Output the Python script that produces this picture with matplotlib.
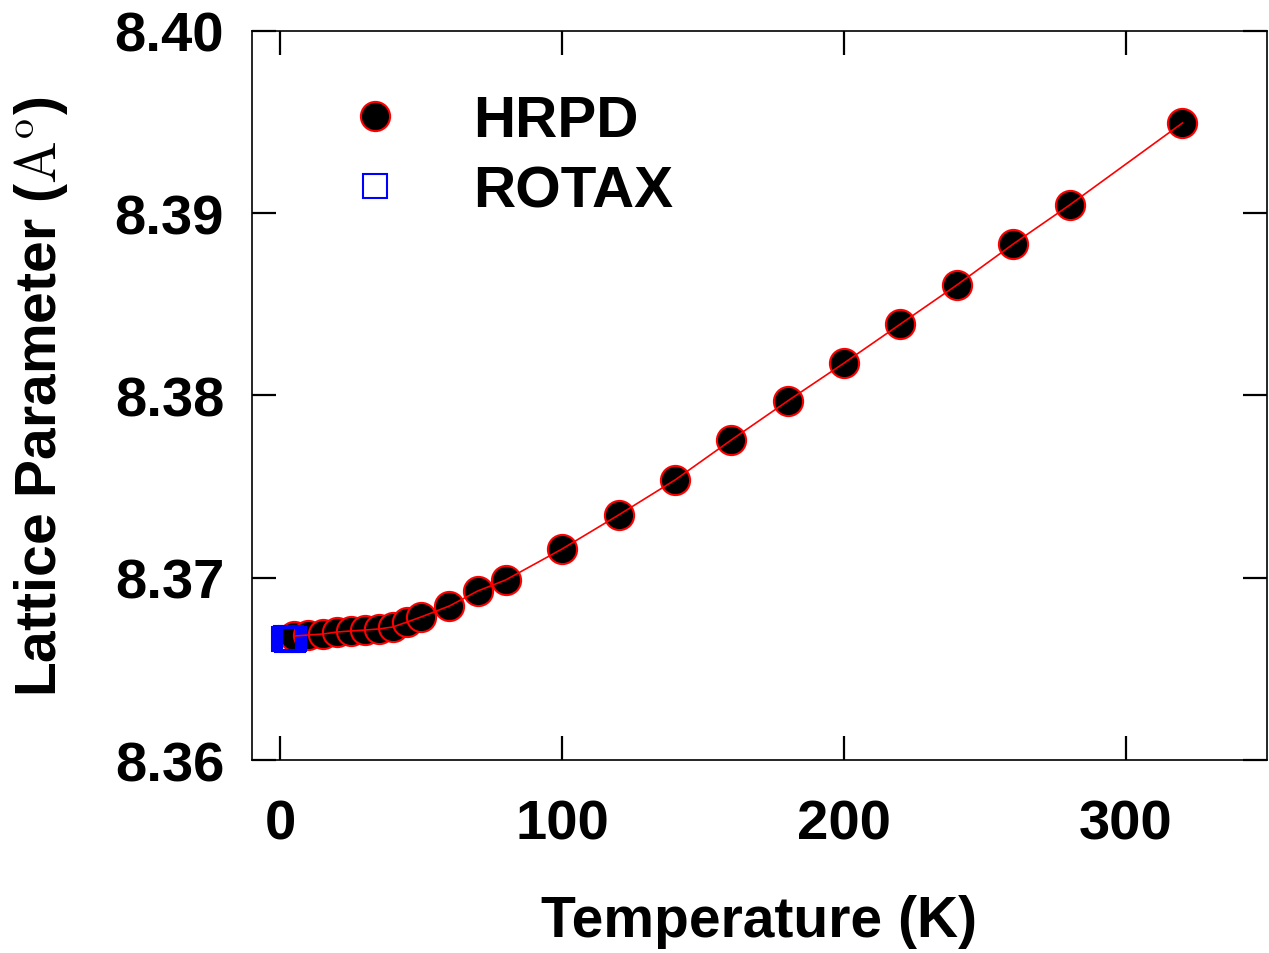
import matplotlib
matplotlib.use('Agg')
import matplotlib.pyplot as plt
from matplotlib.lines import Line2D

plt.rcParams['font.family'] = ['Liberation Sans', 'DejaVu Sans']
plt.rcParams['font.weight'] = 'bold'
plt.rcParams['mathtext.fontset'] = 'cm'

# HRPD data (temperature in K, lattice parameter in Angstrom)
hrpd_T = [5, 10, 15, 20, 25, 30, 35, 40, 45, 50, 60, 70, 80,
          100, 120, 140, 160, 180, 200, 220, 240, 260, 280, 320]
hrpd_a = [8.36680, 8.36686, 8.36691, 8.36702, 8.36708, 8.36713, 8.36719,
          8.36730, 8.36757, 8.36785, 8.36845, 8.36927, 8.36988,
          8.37158, 8.37344, 8.37536, 8.37756, 8.37970, 8.38178, 8.38392,
          8.38606, 8.38831, 8.39045, 8.39495]

# ROTAX data, clustered at low temperature
rotax_T = [1.5, 2.0, 2.5, 3.0, 3.5, 4.0, 4.5, 5.0]
rotax_a = [8.36662, 8.36667, 8.36660, 8.36665, 8.36663, 8.36668, 8.36661, 8.36664]

x_ticks = [0, 100, 200, 300]
y_ticks = [8.36, 8.37, 8.38, 8.39, 8.40]

fig = plt.figure(figsize=(12.69, 9.54), dpi=100)
ax = fig.add_axes([0.1986, 0.2023, 0.7998, 0.7642])

ax.plot(hrpd_T, hrpd_a, 'o', ms=21, mfc='black', mec='red', mew=1.5, zorder=2)
ax.plot(rotax_T, rotax_a, 's', ms=17, mfc='none', mec='blue', mew=1.5, zorder=3)
ax.plot(hrpd_T, hrpd_a, '-', color='red', lw=1.2, zorder=4)

ax.set_xlim(-10, 350)
ax.set_ylim(8.36, 8.40)
ax.set_xticks(x_ticks)
ax.set_yticks(y_ticks)
ax.set_yticklabels(['%.2f' % v for v in y_ticks])

ax.tick_params(direction='in', length=17, width=1.6, labelsize=40.5,
               top=True, right=True)
ax.tick_params(axis='x', pad=28)
ax.tick_params(axis='y', pad=20)
for s in ax.spines.values():
    s.set_linewidth(1.2)

ax.set_xlabel('Temperature (K)', fontsize=41, fontweight='bold', labelpad=31)
ax.set_ylabel(r'Lattice Parameter ($\mathrm{A}^\mathrm{o}$)', fontsize=41,
              fontweight='bold', labelpad=32)

handles = [
    Line2D([], [], marker='o', ls='none', ms=21, mfc='black', mec='red', mew=1.5),
    Line2D([], [], marker='s', ls='none', ms=17, mfc='none', mec='blue', mew=1.5),
]
ax.legend(handles, ['HRPD', 'ROTAX'], loc='upper left', bbox_to_anchor=(0.064, 0.913),
          frameon=False, fontsize=42, handlelength=2.0, handletextpad=0.67,
          labelspacing=0.27, borderpad=0, borderaxespad=0)

plt.savefig('out.png', dpi=100)
